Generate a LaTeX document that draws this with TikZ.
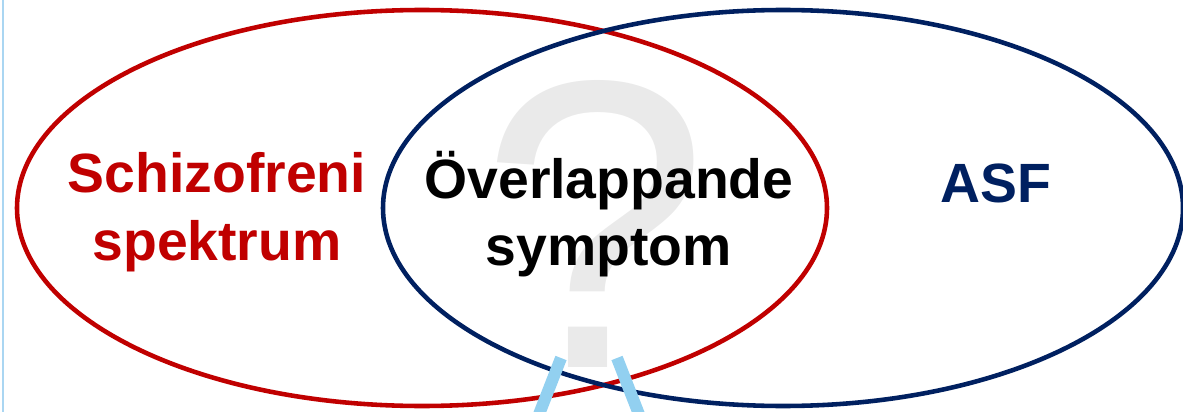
\documentclass[tikz,border=0pt]{standalone}
\usepackage{fontspec}
\setmainfont{Liberation Sans}
\usepackage{tikz}
\usetikzlibrary{
  calc,       % 坐标计算
  positioning % 节点相对定位
}
\definecolor{schizored}{RGB}{192,0,0}
\definecolor{asfblue}{RGB}{0,32,96}
\definecolor{barblue}{RGB}{146,208,240}
\definecolor{edgeblue}{RGB}{170,214,242}
\definecolor{qgrey}{RGB}{234,234,234}

\begin{document}
\begin{tikzpicture}[x=0.02cm, y=-0.02cm,
  label text/.style={font=\fontsize{31.5}{38.5}\selectfont\bfseries, align=center, inner sep=0pt},
  circle line/.style={line width=2.6pt}]
  % 画布大小
  \useasboundingbox (0, 0) rectangle (1183, 412);
  \clip (0, 0) rectangle (1183, 412);

  % 左侧竖线
  \draw[edgeblue, line width=1.6pt] (3, 0) -- (3, 412);

  % 背景中的大问号
  \node[qgrey, font=\fontsize{234}{234}\selectfont, anchor=base, inner sep=0pt] (qmark) at (595, 367) {?};

  % 两个相交的椭圆
  \draw[circle line, schizored] (422, 208) ellipse (405 and 198);
  \draw[circle line, asfblue] (783, 208) ellipse (400 and 198);

  % 文字标签
  \node[label text, schizored] (schizo) at (217, 212) {Schizofreni\\spektrum};
  \node[label text, black] (overlap) at (609, 214) {Överlappande\\symptom};
  \node[label text, asfblue, anchor=base] (asf) at (996, 202) {ASF};

  % 底部两条浅蓝色斜线
  \coordinate (lefttop) at (561, 358);
  \coordinate (leftbot) at (536, 422);
  \coordinate (righttop) at (617, 358);
  \coordinate (rightbot) at (642, 422);
  \draw[barblue, line width=6.8pt] (lefttop) -- (leftbot);
  \draw[barblue, line width=6.8pt] (righttop) -- (rightbot);
\end{tikzpicture}
\end{document}
